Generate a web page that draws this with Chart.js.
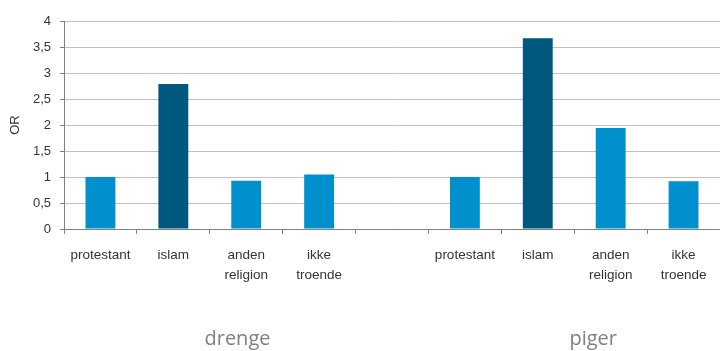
<!DOCTYPE html>
<html>
<head>
<meta charset="utf-8">
<script src="https://cdn.jsdelivr.net/npm/chart.js@4.4.0/dist/chart.umd.min.js"></script>
<style>
  html, body { margin: 0; padding: 0; background: #fff; }
  #wrap { width: 720px; height: 351px; }
</style>
</head>
<body>
<div id="wrap"><canvas id="orChart"></canvas></div>
<script>
  // kategorier og værdier (OR)
  const categories = [
    "protestant", "islam", ["anden", "religion"], ["ikke", "troende"],
    "",
    "protestant", "islam", ["anden", "religion"], ["ikke", "troende"]
  ];
  const orValues = [1, 2.79, 0.93, 1.05, null, 1, 3.67, 1.94, 0.92];
  const barColors = ["#0090cd", "#00587e", "#0090cd", "#0090cd", "#0090cd",
                     "#0090cd", "#00587e", "#0090cd", "#0090cd"];
  const groupLabels = ["drenge", "piger"];
  const yTicks = [0, 0.5, 1, 1.5, 2, 2.5, 3, 3.5, 4];

  // gruppe-tekster under akse
  const groupLabelPlugin = {
    id: "groupLabels",
    afterDraw: (chart) => {
      const ctx = chart.ctx;
      const x = chart.scales.x;
      const spots = [1.88, 6.76];
      ctx.save();
      ctx.font = "20px 'Open Sans', Arial, sans-serif";
      ctx.fillStyle = "#808080";
      ctx.textAlign = "center";
      ctx.textBaseline = "middle";
      groupLabels.forEach((txt, i) => {
        ctx.fillText(txt, x.getPixelForValue(spots[i]), 339);
      });
      ctx.restore();
    }
  };

  new Chart(document.getElementById("orChart"), {
    type: "bar",
    data: {
      labels: categories,
      datasets: [{
        data: orValues,
        backgroundColor: barColors,
        categoryPercentage: 1,
        barPercentage: 0.41
      }]
    },
    options: {
      responsive: true,
      maintainAspectRatio: false,
      animation: false,
      layout: { padding: { top: 21, right: 0, left: 0, bottom: 0 } },
      plugins: {
        legend: { display: false },
        tooltip: { enabled: false }
      },
      scales: {
        x: {
          grid: {
            drawOnChartArea: false,
            drawTicks: true,
            tickLength: 5,
            tickColor: "#808080"
          },
          border: { color: "#808080", width: 1 },
          ticks: {
            color: "#333",
            font: { size: 13.5, family: "'Liberation Sans', Arial, sans-serif", lineHeight: 1.48 },
            padding: 11,
            maxRotation: 0,
            autoSkip: false
          },
          afterFit: (s) => { s.height = 122; }
        },
        y: {
          min: 0,
          max: 4,
          afterBuildTicks: (s) => { s.ticks = yTicks.map(v => ({ value: v })); },
          grid: {
            color: "#c0c0c0",
            tickColor: "#808080",
            tickLength: 4
          },
          border: { color: "#808080", width: 1 },
          ticks: {
            color: "#333",
            font: { size: 13, family: "'Liberation Sans', Arial, sans-serif" },
            padding: 9,
            callback: (v) => String(v).replace(".", ",")
          },
          title: {
            display: true,
            text: "OR",
            color: "#333",
            font: { size: 13, family: "'Liberation Sans', Arial, sans-serif" },
            padding: { top: 8, bottom: 0 }
          },
          afterFit: (s) => { s.width = 64; }
        }
      }
    },
    plugins: [groupLabelPlugin]
  });
</script>
</body>
</html>
